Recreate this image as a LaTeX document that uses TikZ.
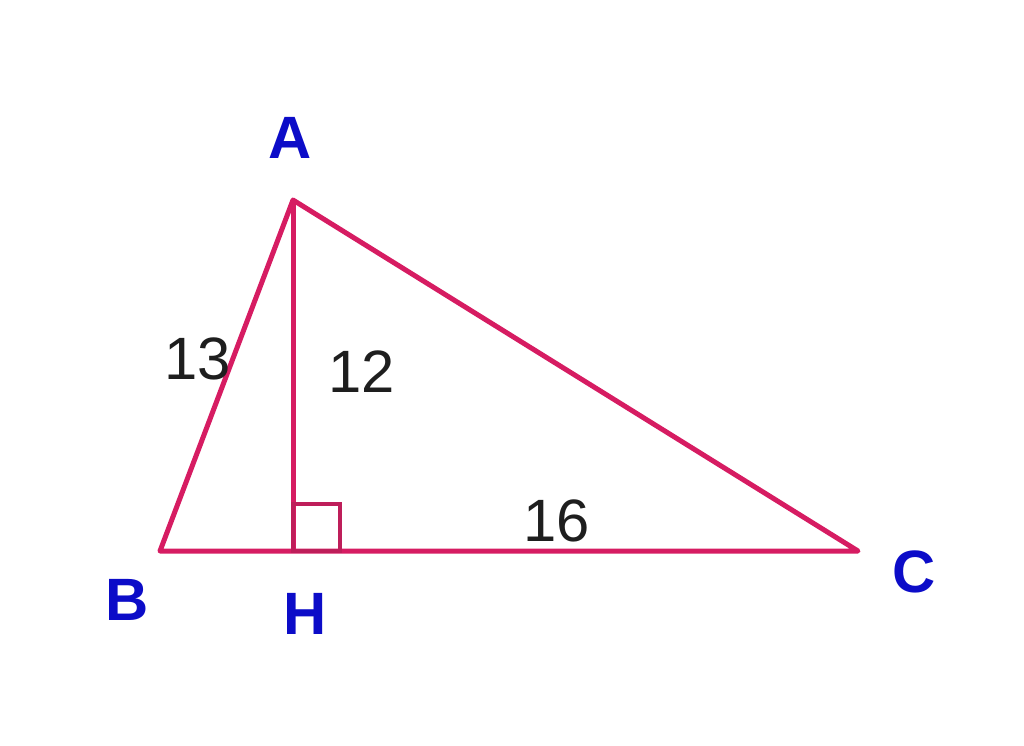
\documentclass[tikz,border=0pt]{standalone}
\usepackage{fontspec}
\setmainfont{Liberation Sans}
\usetikzlibrary{calc}
\definecolor{sidepink}{RGB}{214,28,98}
\definecolor{sqpink}{RGB}{190,30,90}
\definecolor{ptblue}{RGB}{12,12,200}
\definecolor{numgray}{RGB}{30,30,30}
\tikzset{
	side/.style={draw=sidepink, line width=0.05cm, line join=round},
	vlabel/.style={text=ptblue, font=\fontsize{17}{17}\selectfont\bfseries},
	nlabel/.style={text=numgray, font=\fontsize{17}{17}\selectfont}
}

\begin{document}
\begin{tikzpicture}[x=0.01cm, y=-0.01cm]
		\useasboundingbox (0,0) rectangle (1024,745);
		\coordinate (A) at (293,200);
		\coordinate (B) at (160,551);
		\coordinate (H) at (293,551);
		\coordinate (C) at (858,551);
		\path [side] (A) -- (B) -- (C) -- cycle;
		\path [side] (A) -- (H);
		\draw[sqpink, line width=0.045cm] (H) rectangle ($(H)+(47,-47)$);
		\node[vlabel] (labA) at (290,138){A};
		\node[vlabel] (labB) at (127,600){B};
		\node[vlabel] (labH) at (305,614){H};
		\node[vlabel] (labC) at (914,572){C};
		\node[nlabel] (len13) at (198,359){13};
		\node[nlabel] (len12) at (362,372){12};
		\node[nlabel] (len16) at (557,521){16};
	\end{tikzpicture}
\end{document}
